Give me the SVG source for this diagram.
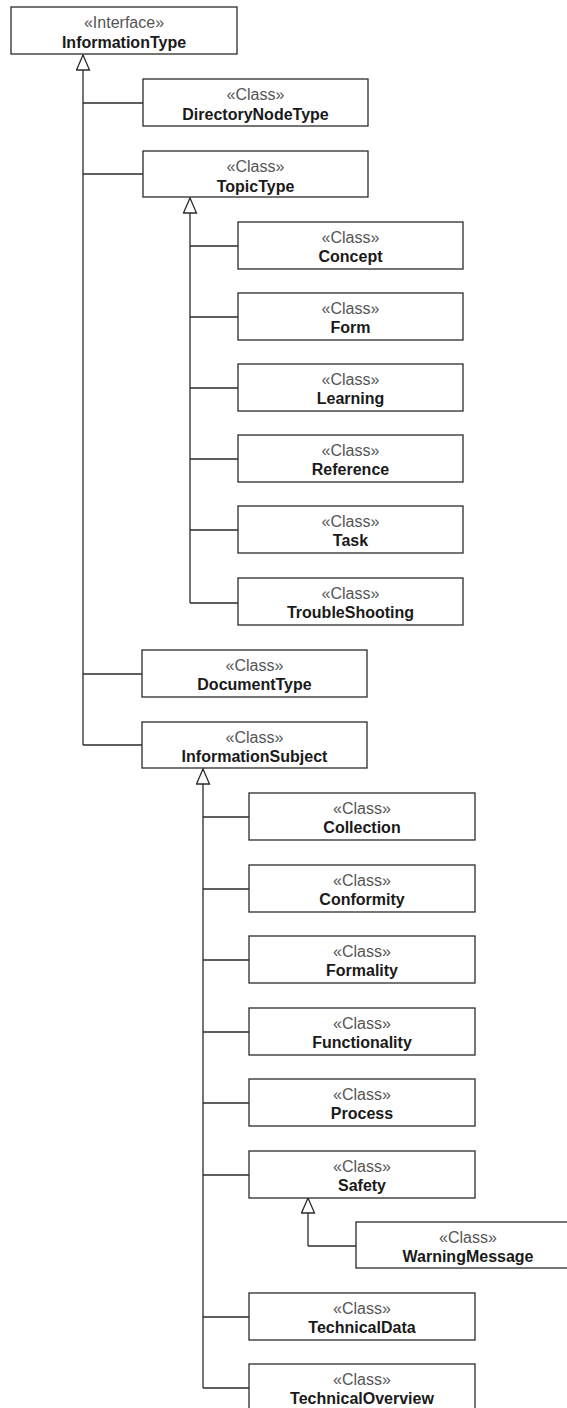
<svg xmlns="http://www.w3.org/2000/svg" width="567" height="1408" viewBox="0 0 567 1408">
<style>
.box{fill:#fff;stroke:#2b2b2b;stroke-width:1.3}
.st{font-family:"Liberation Sans",Arial,sans-serif;font-size:16px;fill:#555;text-anchor:middle}
.nm{font-family:"Liberation Sans",Arial,sans-serif;font-size:16px;font-weight:bold;fill:#1a1a1a;text-anchor:middle}
.ln{fill:none;stroke:#2b2b2b;stroke-width:1.3}
.tr{fill:none;stroke:#2b2b2b;stroke-width:1.3;marker-end:url(#gen)}
</style>
<defs>
<marker id="gen" viewBox="-1 -1 17 15" refX="15" refY="6.5" markerWidth="17" markerHeight="15" markerUnits="userSpaceOnUse" orient="auto">
<path d="M0,0 L15,6.5 L0,13 Z" fill="#fff" stroke="#2b2b2b" stroke-width="1.3"/>
</marker>
</defs>
<rect width="567" height="1408" fill="#fff"/>
<g id="connectors">
<path class="tr" d="M83,745 V55"/>
<path class="ln" d="M83,103 H143 M83,174 H143 M83,674 H142 M83,745 H142"/>
<path class="tr" d="M190,603 V198"/>
<path class="ln" d="M190,246 H238 M190,317 H238 M190,388 H238 M190,459 H238 M190,530 H238 M190,603 H238"/>
<path class="tr" d="M203,1388 V769"/>
<path class="ln" d="M203,817 H249 M203,889 H249 M203,960 H249 M203,1032 H249 M203,1103 H249 M203,1175 H249 M203,1317 H249 M203,1388 H249"/>
<path class="tr" d="M308,1246 V1198"/>
<path class="ln" d="M308,1246 H356"/>
</g>
<g id="InformationType"><rect class="box" x="11" y="7" width="226" height="47"/><text class="st" x="124" y="28">«Interface»</text><text class="nm" x="124" y="48">InformationType</text></g>
<g id="DirectoryNodeType"><rect class="box" x="143" y="79" width="225" height="47"/><text class="st" x="255.5" y="100">«Class»</text><text class="nm" x="255.5" y="120">DirectoryNodeType</text></g>
<g id="TopicType"><rect class="box" x="143" y="151" width="225" height="46"/><text class="st" x="255.5" y="172">«Class»</text><text class="nm" x="255.5" y="192">TopicType</text></g>
<g id="Concept"><rect class="box" x="238" y="222" width="225" height="47"/><text class="st" x="350.5" y="243">«Class»</text><text class="nm" x="350.5" y="262">Concept</text></g>
<g id="Form"><rect class="box" x="238" y="293" width="225" height="47"/><text class="st" x="350.5" y="314">«Class»</text><text class="nm" x="350.5" y="333">Form</text></g>
<g id="Learning"><rect class="box" x="238" y="364" width="225" height="47"/><text class="st" x="350.5" y="385">«Class»</text><text class="nm" x="350.5" y="404">Learning</text></g>
<g id="Reference"><rect class="box" x="238" y="435" width="225" height="47"/><text class="st" x="350.5" y="456">«Class»</text><text class="nm" x="350.5" y="475">Reference</text></g>
<g id="Task"><rect class="box" x="238" y="506" width="225" height="47"/><text class="st" x="350.5" y="527">«Class»</text><text class="nm" x="350.5" y="546">Task</text></g>
<g id="TroubleShooting"><rect class="box" x="238" y="578" width="225" height="47"/><text class="st" x="350.5" y="599">«Class»</text><text class="nm" x="350.5" y="618">TroubleShooting</text></g>
<g id="DocumentType"><rect class="box" x="142" y="650" width="225" height="47"/><text class="st" x="254.5" y="671">«Class»</text><text class="nm" x="254.5" y="690">DocumentType</text></g>
<g id="InformationSubject"><rect class="box" x="142" y="722" width="225" height="46"/><text class="st" x="254.5" y="743">«Class»</text><text class="nm" x="254.5" y="762">InformationSubject</text></g>
<g id="Collection"><rect class="box" x="249" y="793" width="226" height="47"/><text class="st" x="362" y="814">«Class»</text><text class="nm" x="362" y="833">Collection</text></g>
<g id="Conformity"><rect class="box" x="249" y="865" width="226" height="47"/><text class="st" x="362" y="886">«Class»</text><text class="nm" x="362" y="905">Conformity</text></g>
<g id="Formality"><rect class="box" x="249" y="936" width="226" height="47"/><text class="st" x="362" y="957">«Class»</text><text class="nm" x="362" y="976">Formality</text></g>
<g id="Functionality"><rect class="box" x="249" y="1008" width="226" height="47"/><text class="st" x="362" y="1029">«Class»</text><text class="nm" x="362" y="1048">Functionality</text></g>
<g id="Process"><rect class="box" x="249" y="1079" width="226" height="47"/><text class="st" x="362" y="1100">«Class»</text><text class="nm" x="362" y="1119">Process</text></g>
<g id="Safety"><rect class="box" x="249" y="1151" width="226" height="47"/><text class="st" x="362" y="1172">«Class»</text><text class="nm" x="362" y="1191">Safety</text></g>
<g id="WarningMessage"><rect class="box" x="356" y="1222" width="224" height="46"/><text class="st" x="468" y="1243">«Class»</text><text class="nm" x="468" y="1262">WarningMessage</text></g>
<g id="TechnicalData"><rect class="box" x="249" y="1293" width="226" height="47"/><text class="st" x="362" y="1314">«Class»</text><text class="nm" x="362" y="1333">TechnicalData</text></g>
<g id="TechnicalOverview"><rect class="box" x="249" y="1364" width="226" height="60"/><text class="st" x="362" y="1385">«Class»</text><text class="nm" x="362" y="1404">TechnicalOverview</text></g>
</svg>
